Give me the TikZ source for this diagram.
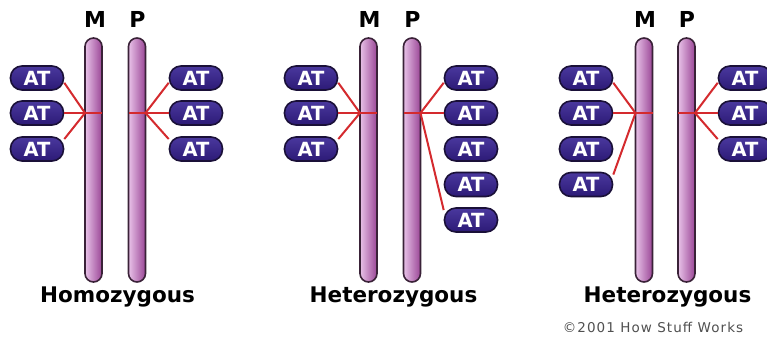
\documentclass[tikz,border=0pt]{standalone}
\usepackage{fontspec}
\setmainfont{DejaVu Sans}
\newfontfamily\copyfont[LetterSpace=8]{DejaVu Sans}
\definecolor{pillA}{HTML}{4A389E}
\definecolor{pillB}{HTML}{2C1A76}
\definecolor{pillline}{HTML}{1A1038}
\definecolor{chromline}{HTML}{3A2238}
\definecolor{chromA}{HTML}{E8C2E8}
\definecolor{chromC}{HTML}{9A4696}
\definecolor{linkred}{HTML}{D42A2E}
\definecolor{copygray}{HTML}{505050}
\tikzset{
  chrom/.style={draw=chromline, line width=1.6pt, rounded corners=8.5pt,
    minimum width=17pt, minimum height=244pt, inner sep=0pt,
    left color=chromA, right color=chromC},
  atpill/.style={draw=pillline, line width=1.6pt, rounded corners=11.5pt,
    minimum width=53pt, minimum height=24pt, inner sep=0pt,
    top color=pillA, bottom color=pillB, text=white,
    font=\fontsize{19.5}{19.5}\selectfont\bfseries},
  link/.style={draw=linkred, line width=2pt},
  title/.style={font=\fontsize{21.5}{22}\selectfont\bfseries, anchor=base},
  mp/.style={font=\fontsize{22}{22}\selectfont\bfseries, anchor=base},
}
\begin{document}
\begin{tikzpicture}[x=1pt,y=-1pt]
\useasboundingbox[fill=white] (0,0) rectangle (767,337);
% ---------- panel 1 ----------
\node[mp] (lm1) at (95,28) {M};
\node[mp] (lp1) at (137.5,28) {P};
\node[chrom] (m1) at (93.5,160) {};
\node[chrom] (pc1) at (137,160) {};
\coordinate (m1L) at (85,113);
\coordinate (m1R) at (102,113);
\coordinate (p1L) at (128.5,113);
\coordinate (p1R) at (145.5,113);
\node[atpill] (a11) at (37,78) {AT};
\node[atpill] (a12) at (37,113) {AT};
\node[atpill] (a13) at (37,149) {AT};
\node[atpill] (b11) at (196,78) {AT};
\node[atpill] (b12) at (196,113) {AT};
\node[atpill] (b13) at (196,149) {AT};
\draw[link] (a11.-10) -- (m1L);
\draw[link] (a12.east) -- (m1R);
\draw[link] (a13.20) -- (m1L);
\draw[link] (b11.190) -- (p1R);
\draw[link] (b12.west) -- (p1L);
\draw[link] (b13.160) -- (p1R);
\node[title] (t1) at (117.5,302) {Homozygous};
% ---------- panel 2 ----------
\node[mp] (lm2) at (369.5,28) {M};
\node[mp] (lp2) at (412.5,28) {P};
\node[chrom] (m2) at (368.5,160) {};
\node[chrom] (pc2) at (412,160) {};
\coordinate (m2L) at (360,113);
\coordinate (m2R) at (377,113);
\coordinate (p2L) at (403.5,113);
\coordinate (p2R) at (420.5,113);
\node[atpill] (a21) at (311,78) {AT};
\node[atpill] (a22) at (311,113) {AT};
\node[atpill] (a23) at (311,149) {AT};
\node[atpill] (b21) at (471,78) {AT};
\node[atpill] (b22) at (471,113) {AT};
\node[atpill] (b23) at (471,149) {AT};
\node[atpill] (b24) at (471,184.5) {AT};
\node[atpill] (b25) at (471,220) {AT};
\draw[link] (a21.-10) -- (m2L);
\draw[link] (a22.east) -- (m2R);
\draw[link] (a23.20) -- (m2L);
\draw[link] (b21.190) -- (p2R);
\draw[link] (b22.west) -- (p2L);
\draw[link] (b25.160) -- (p2R);
\node[title] (t2) at (393.5,302) {Heterozygous};
% ---------- panel 3 ----------
\node[mp] (lm3) at (645,28) {M};
\node[mp] (lp3) at (687,28) {P};
\node[chrom] (m3) at (644,160) {};
\node[chrom] (pc3) at (686.5,160) {};
\coordinate (m3L) at (635.5,113);
\coordinate (m3R) at (652.5,113);
\coordinate (p3L) at (678,113);
\coordinate (p3R) at (695,113);
\node[atpill] (a31) at (586,78) {AT};
\node[atpill] (a32) at (586,113) {AT};
\node[atpill] (a33) at (586,149) {AT};
\node[atpill] (a34) at (586,184.5) {AT};
\node[atpill] (b31) at (745,78) {AT};
\node[atpill] (b32) at (745,113) {AT};
\node[atpill] (b33) at (745,149) {AT};
\draw[link] (a31.-10) -- (m3L);
\draw[link] (a32.east) -- (m3R);
\draw[link] (a34.20) -- (m3L);
\draw[link] (b31.190) -- (p3R);
\draw[link] (b32.west) -- (p3L);
\draw[link] (b33.160) -- (p3R);
\node[title] (t3) at (667.5,302) {Heterozygous};
\node[anchor=base, text=copygray, font=\copyfont\fontsize{13.5}{14}\selectfont] (cr) at (653,332) {©2001 How Stuff Works};
\end{tikzpicture}
\end{document}
